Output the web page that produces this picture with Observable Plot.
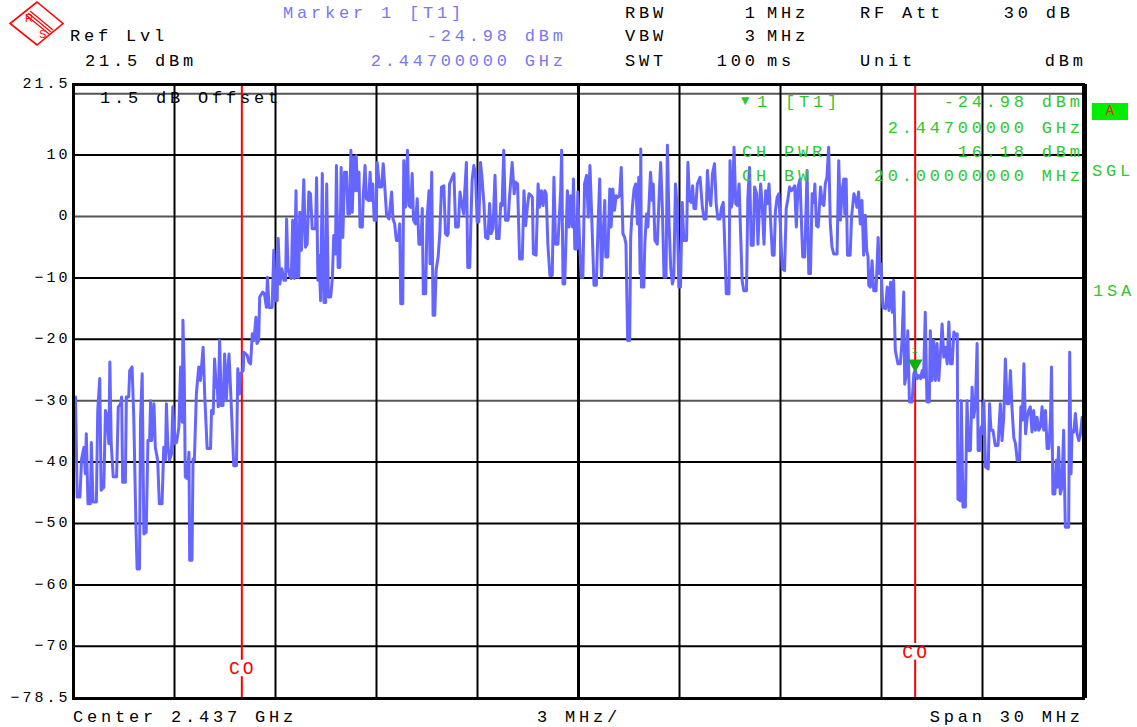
<!DOCTYPE html>
<html><head><meta charset="utf-8">
<script src="https://cdn.jsdelivr.net/npm/d3@7"></script>
<script src="https://cdn.jsdelivr.net/npm/@observablehq/plot@0.6"></script>
<style>
body{margin:0;background:#fff;}
#wrap{position:relative;width:1137px;height:727px;overflow:hidden;font-family:"Liberation Mono",monospace;}
#wrap > svg{position:absolute;left:0;top:0;}
.t{position:absolute;white-space:pre;line-height:20px;height:20px;font-size:17px;letter-spacing:3.8px;color:#000;}
</style></head><body><div id="wrap"></div>
<script>
// ---- instrument settings / readouts ----
const centerGHz = 2.437;
const spanMHz = 30;
const divMHz = 3;
const refLevelDbm = 21.5;
const bottomLevelDbm = -78.5;
const offsetDb = 1.5;
const rfAttDb = 30;
const markerFreqGHz = 2.447;
const markerLevelDbm = -24.98;
const chPowerDbm = 16.18;
const chBwMHz = 20;
const settingNames = ["RBW", "VBW", "SWT"];
const settingValues = ["1", "3", "100"];
const settingUnits = ["MHz", "MHz", "ms"];

// y tick labels and grid levels (dBm)
const yTickLabels = [21.5, 10, 0, -10, -20, -30, -40, -50, -60, -70, -78.5];
const gridBlack = [10, -10, -20, -40, -50, -60, -70];
const gridGray = [20, 0, -30];
const gridFreq = [3, 6, 9, 12, 18, 21, 24, 27];

// ---- trace: [offset from start frequency (MHz), level (dBm)] ----
const lowerSkirt = [
[0.00,-30.5],[0.06,-29.4],[0.11,-45.7],[0.19,-45.7],[0.24,-39.5],[0.31,-37.6],[0.35,-41.9],[0.38,-35.4],[0.43,-46.8],[0.50,-46.8],
[0.53,-36.8],[0.58,-46.5],[0.68,-46.5],[0.72,-31.6],[0.78,-26.4],[0.82,-44.6],[0.90,-44.1],[0.95,-31.6],[1.00,-32.7],[1.05,-37.0],
[1.08,-23.7],[1.12,-37.0],[1.18,-42.4],[1.28,-42.4],[1.33,-31.0],[1.40,-30.5],[1.43,-29.4],[1.46,-43.3],[1.54,-43.3],[1.57,-29.4],
[1.64,-29.4],[1.67,-25.1],[1.74,-24.5],[1.79,-32.7],[1.86,-51.7],[1.89,-57.4],[1.96,-57.4],[1.99,-33.2],[2.04,-25.6],[2.09,-51.7],
[2.16,-51.4],[2.21,-36.5],[2.26,-36.5],[2.29,-30.0],[2.32,-36.5],[2.39,-30.5],[2.43,-37.6],[2.50,-39.7],[2.55,-46.8],[2.63,-46.8],
[2.68,-37.6],[2.73,-39.7],[2.76,-30.5],[2.80,-37.0],[2.85,-39.7],[2.91,-38.7],[2.95,-31.0],[3.00,-37.0],[3.06,-36.8],[3.13,-34.3],
[3.18,-24.5],[3.23,-33.5],[3.25,-16.9],[3.29,-25.6],[3.32,-42.4],[3.38,-42.7],[3.43,-38.4],[3.45,-56.0],[3.52,-56.0],[3.55,-39.5],
[3.59,-39.7],[3.65,-28.9],[3.72,-24.5],[3.77,-26.7],[3.85,-21.3],[3.90,-29.4],[3.97,-37.8],[4.07,-37.8],[4.10,-31.6],[4.15,-32.1],
[4.19,-23.2],[4.24,-27.8],[4.27,-27.8],[4.30,-31.0],[4.34,-20.2],[4.39,-30.8],[4.44,-30.8],[4.49,-22.4],[4.54,-30.0],[4.58,-25.1],
[4.62,-22.4],[4.68,-30.0],[4.76,-40.6],[4.84,-40.6],[4.88,-24.8],[4.93,-28.9],[4.96,-25.6],[5.04,-25.1],[5.06,-22.1],[5.16,-22.6],
[5.21,-23.7],[5.26,-24.0],[5.31,-19.1],[5.36,-20.2],[5.42,-16.4],[5.45,-20.7],[5.50,-20.2],[5.53,-13.1],[5.62,-12.3],[5.67,-12.6],
[5.73,-14.8],[5.76,-9.9],[5.81,-14.8],[5.90,-14.8],[5.95,-5.5],[6.00,-13.7],[6.05,-13.7],[6.08,-3.6],[6.13,-11.0],[6.19,-8.5],
[6.25,-10.4],[6.30,-10.4],[6.33,-0.4],[6.37,-8.3],[6.42,-9.6],[6.47,-10.1],[6.51,-0.6],[6.56,-10.1],[6.61,4.2],[6.64,-9.9],
[6.69,-9.9],[6.72,0.7],[6.77,-5.5],[6.84,6.0],[6.89,-5.0],[6.94,-4.5],[6.99,4.0],[7.04,3.7],[7.09,-2.0],[7.19,-2.0],
[7.22,6.3],[7.26,-10.4]
];
const bandLow = [
[7.29,-6.3],[7.34,-13.7],[7.39,7.0],[7.44,-14.0],[7.49,-14.0],[7.52,5.3],[7.57,-13.1],[7.64,-13.1],[7.69,-9.9],[7.73,-3.1],
[7.78,-6.1],[7.81,8.3],[7.86,-8.3],[7.91,-8.3],[7.95,8.0],[8.00,-3.4],[8.05,7.2],[8.11,7.2],[8.15,0.4],[8.20,0.4],
[8.24,10.8],[8.28,0.7],[8.33,9.7],[8.36,4.2],[8.40,9.9],[8.43,4.2],[8.48,7.2],[8.51,-1.7],[8.58,-1.7],[8.61,3.7],
[8.66,8.3],[8.70,2.9],[8.77,2.6],[8.81,7.2],[8.85,2.6],[8.89,5.3],[8.93,-0.6],[8.99,-0.6],[9.02,8.8],[9.09,4.8],
[9.15,4.8],[9.20,8.6],[9.24,5.3],[9.30,0.2],[9.37,-0.4],[9.45,4.0],[9.49,-0.4],[9.54,-1.2],[9.59,-3.9],[9.65,-3.9],
[9.69,-1.2],[9.72,-14.2],[9.78,-14.2],[9.81,9.1],[9.86,1.5],[9.92,10.8],[9.96,1.8],[10.02,1.5],[10.06,7.0],[10.10,-0.6],
[10.16,-1.2],[10.21,2.9],[10.26,-4.5],[10.32,-4.5],[10.36,1.3],[10.39,-12.6],[10.46,-12.6],[10.50,-0.6],[10.56,4.2],[10.59,-7.7],
[10.64,7.2],[10.68,-16.1],[10.73,-16.1],[10.77,-8.8],[10.83,-6.6],[10.88,-2.8],[10.93,4.8],[11.00,5.0],[11.05,-2.8],[11.10,-3.1],
[11.13,-2.8],[11.17,5.3],[11.25,6.4],[11.30,7.0],[11.35,-1.7],[11.43,-1.7],[11.48,4.0],[11.55,1.5],[11.59,0.4],[11.62,4.0],
[11.67,8.8],[11.71,-8.3],[11.77,-8.3],[11.80,-1.7],[11.84,5.9],[11.89,8.3],[11.94,7.0],[11.99,-0.9],[12.04,-0.9],[12.09,8.8],
[12.14,5.9],[12.19,2.1],[12.24,-3.4],[12.31,-3.6],[12.36,2.1],[12.40,-2.8],[12.46,-2.0],[12.52,6.7],[12.57,-3.6],[12.64,-3.6],
[12.69,2.1],[12.73,1.8],[12.78,10.8],[12.83,-0.6],[12.91,-0.6],[12.95,3.1],[13.03,8.8],[13.09,3.7],[13.13,5.6],[13.19,5.3],
[13.25,-6.9],[13.33,-6.9],[13.38,4.2],[13.43,-1.5],[13.48,1.5],[13.53,3.7],[13.60,3.4],[13.63,3.1],[13.66,-6.1],[13.74,-6.3],
[13.80,5.3],[13.84,1.5],[13.90,4.2],[13.95,1.8],[14.00,4.2],[14.04,3.7],[14.09,-4.5],[14.15,-9.6],[14.22,-9.6],[14.27,6.4],
[14.32,-4.5],[14.39,-4.5],[14.47,4.2],[14.50,10.8],[14.54,-11.0],[14.59,-11.0]
];
const bandHigh = [
[14.67,4.2],[14.72,-1.7],[14.77,3.4],[14.82,-1.7],[14.85,6.1],[14.89,-5.3],[14.95,-5.3],[14.98,4.0],[15.03,-3.9],[15.08,-9.9],
[15.13,-9.9],[15.18,5.3],[15.24,6.7],[15.29,-0.1],[15.34,8.3],[15.39,0.4],[15.46,-11.2],[15.53,-11.2],[15.58,-1.5],[15.63,6.1],
[15.68,-9.9],[15.73,-3.4],[15.78,2.6],[15.81,-6.6],[15.87,-6.6],[15.93,4.5],[15.97,-1.7],[16.02,4.5],[16.07,1.0],[16.12,3.4],
[16.17,3.1],[16.22,3.4],[16.27,8.0],[16.32,-2.8],[16.37,-3.4],[16.41,-4.5],[16.46,-20.2],[16.52,-20.2],[16.55,-3.4],[16.60,1.5],
[16.65,4.5],[16.70,5.3],[16.75,-1.2],[16.79,6.4],[16.83,-9.3],[16.85,11.0],[16.87,-11.5],[16.94,-11.5],[16.97,-4.5],[17.02,0.4],
[17.06,-1.7],[17.09,1.5],[17.14,7.2],[17.19,2.6],[17.22,5.3],[17.27,-3.9],[17.34,-4.5],[17.39,2.6],[17.44,8.8],[17.49,1.5],
[17.54,-9.9],[17.60,-9.9],[17.64,11.6],[17.69,-1.2],[17.74,-8.5],[17.79,-11.0],[17.83,-9.9],[17.88,5.3],[17.93,1.5],[17.98,-11.5],
[18.03,-11.5],[18.08,2.3],[18.13,-3.9],[18.21,-3.9],[18.25,8.8],[18.30,2.6],[18.35,2.3],[18.39,5.0],[18.43,1.3],[18.48,1.3],
[18.53,5.3],[18.61,6.4],[18.68,1.5],[18.73,-0.4],[18.79,-0.4],[18.83,7.5],[18.88,3.1],[18.93,1.8],[18.98,7.0],[19.04,8.6],
[19.09,2.1],[19.14,-0.4],[19.20,-0.4],[19.25,1.5],[19.30,2.3],[19.34,-3.9],[19.39,-12.6],[19.47,-12.6],[19.50,9.1],[19.54,1.5],
[19.57,2.3],[19.62,11.3],[19.67,2.1],[19.72,1.8],[19.77,5.3],[19.82,-3.6],[19.86,-10.4],[19.91,-12.1],[19.99,-12.1],[20.03,3.1],
[20.08,8.0],[20.13,-4.7],[20.19,-4.7],[20.23,4.8],[20.29,3.7],[20.33,-4.5],[20.37,1.0],[20.41,5.3],[20.46,1.5],[20.51,-4.5],
[20.56,4.2],[20.61,2.1],[20.66,5.3],[20.71,-1.2],[20.76,-6.3],[20.81,-6.3],[20.85,1.0],[20.90,3.1],[20.95,3.7],[21.00,-2.0],
[21.05,-8.5],[21.12,-8.8],[21.17,1.3],[21.22,2.9],[21.27,4.8],[21.32,4.2],[21.37,4.5],[21.42,5.0],[21.47,-1.7],[21.52,4.8],
[21.58,6.1],[21.62,-0.6],[21.66,-6.6],[21.72,-6.6]
];
const upperSkirt = [
[21.79,7.5],[21.84,-9.3],[21.89,-9.3],[21.94,3.7],[21.99,2.3],[22.02,5.3],[22.07,-1.5],[22.12,-1.7],[22.19,4.8],[22.24,2.1],
[22.29,1.8],[22.33,5.3],[22.38,6.4],[22.43,11.3],[22.48,-1.2],[22.53,-5.0],[22.58,-6.1],[22.68,-6.1],[22.73,9.1],[22.78,-0.6],
[22.83,4.2],[22.88,6.1],[22.91,0.4],[22.95,6.1],[22.99,-6.3],[23.07,-6.3],[23.11,-0.1],[23.18,3.7],[23.23,2.9],[23.27,1.5],
[23.32,4.0],[23.37,-1.2],[23.42,2.6],[23.47,-6.3],[23.52,0.2],[23.56,-5.5],[23.60,-6.6],[23.62,-11.2],[23.67,-11.5],[23.72,-7.2],
[23.77,-12.1],[23.84,-12.1],[23.90,-3.4],[23.94,-9.3],[23.98,-7.7],[24.04,-14.8],[24.12,-15.0],[24.17,-11.5],[24.22,-15.3],[24.27,-10.7],
[24.32,-15.6],[24.36,-10.4],[24.41,-21.8],[24.49,-24.0],[24.56,-24.0],[24.61,-20.2],[24.66,-12.3],[24.69,-27.3],[24.74,-25.6],[24.78,-18.6],
[24.83,-30.2],[24.91,-30.2],[24.96,-25.6],[25.00,-24.98],[25.06,-26.4],[25.11,-25.9],[25.16,-26.4],[25.21,-25.1],[25.25,-26.2],[25.30,-15.6],
[25.35,-30.2],[25.42,-30.2],[25.45,-18.6],[25.50,-26.7],[25.55,-20.2],[25.60,-26.7],[25.65,-20.7],[25.70,-26.7],[25.75,-22.4],[25.80,-17.5],
[25.85,-22.9],[25.90,-21.3],[25.95,-24.0],[26.00,-17.2],[26.05,-24.0],[26.10,-24.0],[26.15,-18.8],[26.20,-19.4],[26.25,-19.1],[26.27,-46.0],
[26.34,-46.3],[26.37,-30.0],[26.42,-47.3],[26.49,-47.3],[26.54,-30.0],[26.59,-38.1],[26.64,-38.1],[26.69,-27.8],[26.74,-32.7],[26.79,-30.5],
[26.84,-20.7],[26.87,-38.1],[26.92,-38.1],[26.96,-34.3],[26.99,-35.4],[27.04,-30.0],[27.09,-40.8],[27.17,-41.1],[27.21,-30.5],[27.25,-34.8],
[27.31,-34.8],[27.38,-37.3],[27.46,-37.3],[27.53,-30.5],[27.58,-36.5],[27.63,-32.7],[27.68,-23.2],[27.73,-30.5],[27.78,-30.5],[27.83,-25.1],
[27.88,-31.6],[27.93,-36.0],[27.98,-37.0],[28.03,-39.7],[28.10,-39.7],[28.14,-31.0],[28.18,-33.2],[28.23,-24.0],[28.28,-35.4],[28.33,-32.7],
[28.37,-31.6],[28.42,-31.0],[28.47,-35.1],[28.52,-31.6],[28.57,-34.8],[28.62,-32.7],[28.67,-34.8],[28.72,-34.3],[28.77,-31.0],[28.82,-34.8],
[28.87,-31.6],[28.92,-37.8],[28.97,-37.8],[29.02,-32.7],[29.05,-24.5],[29.09,-45.2],[29.15,-45.2],[29.19,-39.7],[29.22,-44.1],[29.26,-37.6],
[29.31,-45.2],[29.36,-44.1],[29.41,-34.8],[29.46,-50.6],[29.56,-50.6],[29.59,-22.1],[29.63,-41.9],[29.66,-34.8],[29.71,-35.1],[29.76,-32.1],
[29.81,-35.4],[29.86,-36.5],[29.91,-35.4],[29.96,-32.7],[30.00,-32.7]
];

// ---- derived ----
const startMHz = centerGHz * 1000 - spanMHz / 2;
const trace = [...lowerSkirt, ...bandLow, ...bandHigh, ...upperSkirt].map(([f, level]) => ({f, level}));
const coOffsets = [centerGHz * 1000 - chBwMHz / 2 - startMHz, centerGHz * 1000 + chBwMHz / 2 - startMHz];
const coLabelLevels = [-73.6, -70.9];
const markerPoint = [{f: markerFreqGHz * 1000 - startMHz, level: markerLevelDbm}];
const fmtTick = d => (d < 0 ? "\u2212" : "") + Math.abs(d);

const traceColor = "#6565ff";
const green = "#2ec82e";
const blue = "#7878f0";

const chart = Plot.plot({
  width: 1137,
  height: 727,
  marginLeft: 73,
  marginRight: 54,
  marginTop: 84,
  marginBottom: 29,
  x: {domain: [0, spanMHz], axis: null},
  y: {domain: [bottomLevelDbm, refLevelDbm], axis: null},
  style: "font-family:'Liberation Mono',monospace;font-size:15px;letter-spacing:3px;background:white;",
  marks: [
    Plot.gridY(gridGray, {stroke: "#555", strokeOpacity: 1, strokeWidth: 2}),
    Plot.gridY(gridBlack, {stroke: "#000", strokeOpacity: 1, strokeWidth: 2}),
    Plot.gridX(gridFreq, {stroke: "#000", strokeOpacity: 1, strokeWidth: 2}),
    Plot.gridX([spanMHz / 2], {stroke: "#000", strokeOpacity: 1, strokeWidth: 3}),
    Plot.ruleX(coOffsets, {x: d => d, y1: () => refLevelDbm, y2: (d, i) => coLabelLevels[i] + 1.35, stroke: "#ff0000", strokeWidth: 2}),
    Plot.ruleX(coOffsets, {x: d => d, y1: (d, i) => coLabelLevels[i] - 1.35, y2: () => bottomLevelDbm, stroke: "#ff0000", strokeWidth: 2}),
    Plot.text(coOffsets, {x: d => d, y: (d, i) => coLabelLevels[i], text: () => "CO", fill: "#ff0000", fontSize: 18, dx: 1}),
    Plot.line(trace, {x: "f", y: "level", stroke: traceColor, strokeWidth: 3, strokeLinejoin: "round"}),
    Plot.dot(markerPoint, {x: "f", y: "level", symbol: "triangle", rotate: 180, r: 5.5, fill: "#10b010", stroke: "none", dy: -6}),
    Plot.text(markerPoint, {x: "f", y: "level", text: () => "1", fill: "#10b010", fontSize: 9, dy: -20, dx: 1}),
    Plot.frame({stroke: "#000", strokeWidth: 3}),
    Plot.ruleX([spanMHz], {stroke: "#000", strokeWidth: 5, dx: 1}),
    Plot.text(yTickLabels, {frameAnchor: "left", y: d => d, text: fmtTick, textAnchor: "end", dx: -3, dy: -1, fill: "#000"})
  ]
});

const wrap = document.getElementById("wrap");
wrap.appendChild(chart);

function label(str, x, y, color, right) {
  const el = document.createElement("div");
  el.className = "t";
  el.textContent = str;
  if (right) { el.style.right = (1137 - x - 3.8) + "px"; }
  else { el.style.left = x + "px"; }
  el.style.top = (y - 9) + "px";
  if (color) el.style.color = color;
  wrap.appendChild(el);
  return el;
}

// header row
label("Marker 1 [T1]", 283, 12.5, blue);
label(markerLevelDbm.toFixed(2) + " dBm", 563, 36, blue, true);
label(markerFreqGHz.toFixed(8) + " GHz", 563, 61, blue, true);
label("Ref Lvl", 70, 36);
label(refLevelDbm + " dBm", 85, 61);
settingNames.forEach((n, i) => {
  const y = [12.5, 36, 61][i];
  label(n, 625, y);
  label(settingValues[i], 755, y, null, true);
  label(settingUnits[i], 767, y);
});
label("RF Att", 860, 12.5);
label(rfAttDb + " dB", 1070, 12.5, null, true);
label("Unit", 860, 61);
label("dBm", 1083, 61, null, true);

// in-graticule readouts
label(offsetDb + " dB Offset", 100, 98);
const tri = label("\u25BC", 741, 100, green);
tri.style.fontSize = "14px";
label("1 [T1]", 757, 102, green);
label(markerLevelDbm.toFixed(2) + " dBm", 1080, 102, green, true);
label(markerFreqGHz.toFixed(8) + " GHz", 1080, 127.5, green, true);
label("CH PWR", 742, 151.5, green);
label(chPowerDbm.toFixed(2) + " dBm", 1080, 151.5, green, true);
label("CH BW", 742, 175.5, green);
label(chBwMHz.toFixed(8) + " MHz", 1080, 175.5, green, true);

// right side indicators
const box = document.createElement("div");
box.style.cssText = "position:absolute;left:1092px;top:103px;width:36px;height:17px;background:#00ee00;color:#ff2020;font-size:14px;line-height:17px;text-align:center;";
box.textContent = "A";
wrap.appendChild(box);
label("SGL", 1092, 171, green);
label("1SA", 1093, 291, green);

// footer
label("Center " + centerGHz + " GHz", 73, 717);
label(divMHz + " MHz/", 537, 717);
label("Span " + spanMHz + " MHz", 1080, 717, null, true);

// R&S logo
const logo = document.createElementNS("http://www.w3.org/2000/svg", "svg");
logo.setAttribute("width", "70");
logo.setAttribute("height", "50");
logo.style.cssText = "position:absolute;left:0;top:0;";
logo.innerHTML = '<polygon points="37,2 63,23.5 37,45 10,23.5" fill="none" stroke="#ff0000" stroke-width="1.6"/>' +
  '<line x1="30" y1="11" x2="53" y2="30" stroke="#ff0000" stroke-width="1.2"/>' +
  '<line x1="28" y1="13" x2="51" y2="32" stroke="#ff0000" stroke-width="1.2"/>' +
  '<line x1="26" y1="15" x2="49" y2="34" stroke="#ff0000" stroke-width="1.2"/>' +
  '<text x="25" y="22" fill="#ff0000" font-size="11" font-family="Liberation Sans">R</text>' +
  '<text x="39" y="38" fill="#ff0000" font-size="11" font-family="Liberation Sans">S</text>';
wrap.appendChild(logo);
</script></body></html>
